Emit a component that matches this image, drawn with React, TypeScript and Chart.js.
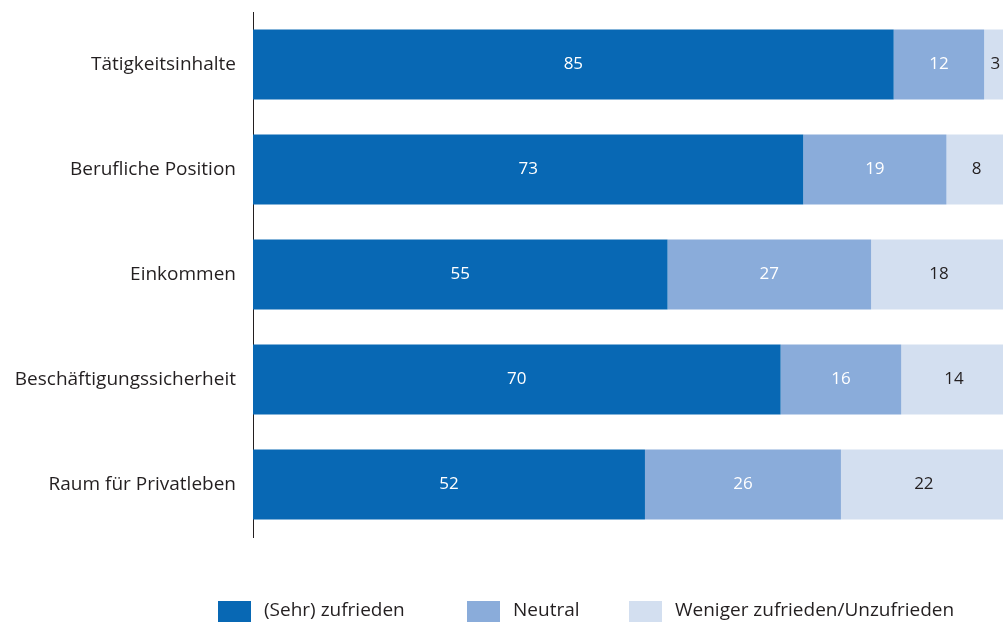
import React, { useEffect, useRef } from "react";
import { Chart, registerables } from "chart.js";

Chart.register(...registerables);

const categories = [
  "Tätigkeitsinhalte",
  "Berufliche Position",
  "Einkommen",
  "Beschäftigungssicherheit",
  "Raum für Privatleben",
];
const zufrieden = [85, 73, 55, 70, 52];
const neutral = [12, 19, 27, 16, 26];
const unzufrieden = [3, 8, 18, 14, 22];
const seriesNames = ["(Sehr) zufrieden", "Neutral", "Weniger zufrieden/Unzufrieden"];
const colors = ["#0868b4", "#8aacda", "#d3dff0"];
const labelColors = ["#ffffff", "#ffffff", "#231f20"];

const FONT = "'Open Sans', 'Noto Sans', sans-serif";

const valueLabels = {
  id: "valueLabels",
  afterDatasetsDraw(chart: any) {
    const ctx = chart.ctx;
    ctx.save();
    ctx.font = `17px ${FONT}`;
    ctx.textAlign = "center";
    ctx.textBaseline = "middle";
    chart.data.datasets.forEach((ds: any, i: number) => {
      const meta = chart.getDatasetMeta(i);
      meta.data.forEach((bar: any, j: number) => {
        const left = Math.min(bar.x, bar.base);
        const right = Math.max(bar.x, bar.base);
        ctx.fillStyle = labelColors[i];
        ctx.fillText(String(ds.data[j]), (left + right) / 2, bar.y);
      });
    });
    ctx.restore();
  },
};

const customLegend = {
  id: "customLegend",
  afterDraw(chart: any) {
    const ctx = chart.ctx;
    const boxX = [218, 467, 629];
    ctx.save();
    ctx.font = `19px ${FONT}`;
    ctx.textBaseline = "middle";
    ctx.textAlign = "left";
    chart.data.datasets.forEach((ds: any, i: number) => {
      ctx.fillStyle = colors[i];
      ctx.fillRect(boxX[i], 601, 33, 22);
      ctx.fillStyle = "#231f20";
      ctx.fillText(ds.label, boxX[i] + 46, 611);
    });
    ctx.restore();
  },
};

export default function App() {
  const ref = useRef<HTMLCanvasElement>(null);
  useEffect(() => {
    if (!ref.current) return;
    const chart = new Chart(ref.current, {
      type: "bar",
      data: {
        labels: categories,
        datasets: [zufrieden, neutral, unzufrieden].map((d, i) => ({
          label: seriesNames[i],
          data: d,
          backgroundColor: colors[i],
          borderWidth: 0,
          categoryPercentage: 1,
          barPercentage: 0.667,
        })),
      },
      options: {
        indexAxis: "y",
        animation: false,
        responsive: false,
        maintainAspectRatio: false,
        layout: { padding: { top: 12, bottom: 85, left: 0, right: 0 } },
        plugins: {
          legend: { display: false },
          tooltip: { enabled: false },
        },
        scales: {
          x: {
            stacked: true,
            display: false,
            min: 0,
            max: 99.5,
          },
          y: {
            stacked: true,
            grid: { display: false, drawTicks: false, tickLength: 0 },
            border: { display: true, color: "#231f20", width: 1 },
            ticks: {
              color: "#231f20",
              font: { family: FONT, size: 19 },
              padding: 17,
            },
            afterFit: (scale: any) => {
              scale.width = 253;
              scale.paddingTop = 0;
              scale.paddingBottom = 0;
            },
          },
        },
      },
      plugins: [valueLabels, customLegend],
    });
    return () => chart.destroy();
  }, []);
  return (
    <div style={{ position: "absolute", left: 0, top: 0, width: 1003, height: 622 }}>
      <canvas ref={ref} width={1003} height={622} style={{ width: 1003, height: 622 }} />
    </div>
  );
}
